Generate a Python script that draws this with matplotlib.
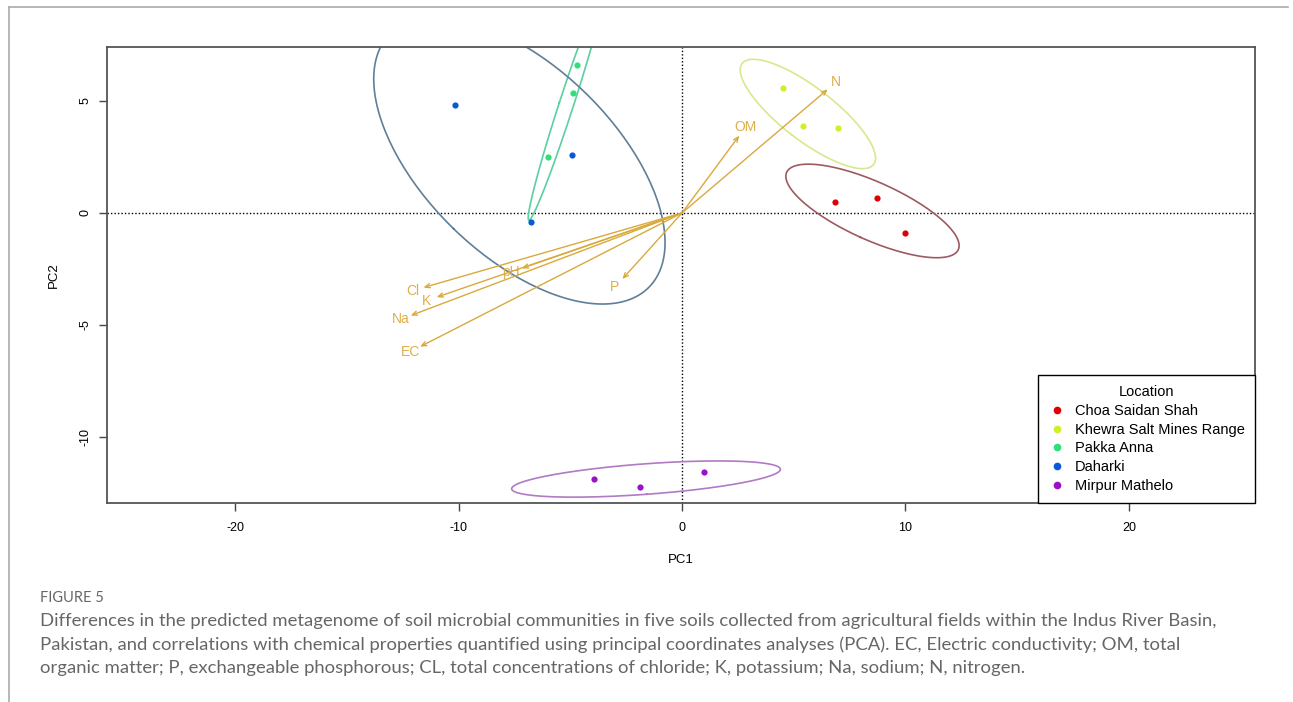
import numpy as np
import matplotlib.pyplot as plt
from matplotlib.lines import Line2D

# sample scores (PC1, PC2)
locations = ["Choa Saidan Shah", "Khewra Salt Mines Range", "Pakka Anna", "Daharki", "Mirpur Mathelo"]
choa_pc1 = [6.85, 8.72, 10.0]
choa_pc2 = [0.49, 0.67, -0.89]
khewra_pc1 = [4.53, 5.40, 6.97]
khewra_pc2 = [5.57, 3.90, 3.79]
pakka_pc1 = [-4.71, -4.86, -5.98]
pakka_pc2 = [6.62, 5.34, 2.51]
daharki_pc1 = [-10.16, -4.91, -6.76]
daharki_pc2 = [4.81, 2.59, -0.40]
mirpur_pc1 = [-3.92, -1.88, 0.97]
mirpur_pc2 = [-11.86, -12.22, -11.56]

point_colors = ["#e00000", "#d2ee2a", "#2ee07a", "#0a58d8", "#9a10c8"]
ellipse_colors = ["#9d5a60", "#dbe78e", "#5acfa0", "#5f7f98", "#b27ac4"]

# chemical property loadings (arrow tips)
var_names = ["N", "OM", "pH", "P", "Cl", "K", "Na", "EC"]
load_pc1 = [6.52, 2.56, -7.17, -2.67, -11.57, -10.98, -12.14, -11.72]
load_pc2 = [5.52, 3.45, -2.47, -2.95, -3.33, -3.76, -4.58, -5.97]
arrow_color = "#d9a93c"

x_ticks = [-20, -10, 0, 10, 20]
y_ticks = [-10, -5, 0, 5]

caption_title = "FIGURE 5"
caption_lines = [
    "Differences in the predicted metagenome of soil microbial communities in five soils collected from agricultural fields within the Indus River Basin,",
    "Pakistan, and correlations with chemical properties quantified using principal coordinates analyses (PCA). EC, Electric conductivity; OM, total",
    "organic matter; P, exchangeable phosphorous; CL, total concentrations of chloride; K, potassium; Na, sodium; N, nitrogen.",
]


def conf_ellipse(x, y, r=np.sqrt(-2 * np.log(0.05)), n=200):
    x = np.asarray(x)
    y = np.asarray(y)
    cov = np.cov(x, y)
    vals, vecs = np.linalg.eigh(cov)
    t = np.linspace(0, 2 * np.pi, n)
    circle = np.vstack([np.cos(t), np.sin(t)]) * np.sqrt(vals)[:, None] * r
    pts = vecs @ circle
    return pts[0] + x.mean(), pts[1] + y.mean()


plt.rcParams['font.family'] = ['Liberation Sans', 'DejaVu Sans']

fig = plt.figure(figsize=(12.93, 7.02), dpi=100)
ax = fig.add_axes([107 / 1293, 1 - 503 / 702, (1255 - 107) / 1293, (503 - 47) / 702])

groups = [(choa_pc1, choa_pc2), (khewra_pc1, khewra_pc2), (pakka_pc1, pakka_pc2),
          (daharki_pc1, daharki_pc2), (mirpur_pc1, mirpur_pc2)]

ax.axhline(0, color="black", lw=1, ls=(0, (1, 1.5)), zorder=1)
ax.axvline(0, color="black", lw=1, ls=(0, (1, 1.5)), zorder=1)

for (gx, gy), pc, ec in zip(groups, point_colors, ellipse_colors):
    ex, ey = conf_ellipse(gx, gy)
    ax.plot(ex, ey, color=ec, lw=1.2, zorder=2)
    ax.scatter(gx, gy, s=20, color=pc, zorder=4, linewidths=0)

for name, lx, ly in zip(var_names, load_pc1, load_pc2):
    ax.annotate("", xy=(lx, ly), xytext=(0, 0),
                arrowprops=dict(arrowstyle="->,head_length=0.35,head_width=0.15",
                                color=arrow_color, lw=1, shrinkA=0, shrinkB=0), zorder=3)
    d = np.hypot(lx, ly)
    ax.text(lx + 0.5 * lx / d, ly + 0.5 * ly / d, name, color="#dcae4c",
            fontsize=10, ha="center", va="center", zorder=3)

ax.set_xlim(-25.73, 25.64)
ax.set_ylim(-12.95, 7.41)
ax.set_xticks(x_ticks)
ax.set_yticks(y_ticks)
ax.set_xticklabels([str(v) for v in x_ticks], fontsize=9)
ax.set_yticklabels([str(v) for v in y_ticks], fontsize=9, rotation=90, va="center")
ax.tick_params(direction="out", length=6, width=1, color="#444444")
ax.tick_params(axis="x", pad=8)
ax.tick_params(axis="y", pad=5)
for s in ax.spines.values():
    s.set_color("#555555")
    s.set_linewidth(1.3)
ax.set_xlabel("PC1", fontsize=9.5, labelpad=14)
ax.set_ylabel("PC2", fontsize=9.5, labelpad=14)

handles = [Line2D([], [], marker="o", ls="", color=c, markersize=4.5) for c in point_colors]
leg = ax.legend(handles, locations, title="Location", loc="lower right",
                bbox_to_anchor=(1.0, 0.0), borderaxespad=0, fancybox=False,
                edgecolor="black", fontsize=10.5, title_fontsize=10.5,
                handlelength=1.2, handletextpad=0.6, labelspacing=0.32,
                borderpad=0.7)
leg.get_frame().set_linewidth(1)
leg.get_frame().set_alpha(1)

# page frame
fig.add_artist(Line2D([9 / 1293, 9 / 1293], [0, 1 - 7 / 702], color="#aaaaaa", lw=1.2))
fig.add_artist(Line2D([9 / 1293, 1288 / 1293], [1 - 7 / 702, 1 - 7 / 702], color="#aaaaaa", lw=1.2))

fig.text(40 / 1293, 1 - 598 / 702, caption_title, fontsize=10.5, color="#666666",
         family=["Lato", "DejaVu Sans"], va="center")
for i, line in enumerate(caption_lines):
    fig.text(40 / 1293, 1 - (621 + 23.5 * i) / 702, line, fontsize=13.3, color="#666666",
             family=["Lato", "DejaVu Sans"], va="center")

fig.savefig("out.png", dpi=100)
